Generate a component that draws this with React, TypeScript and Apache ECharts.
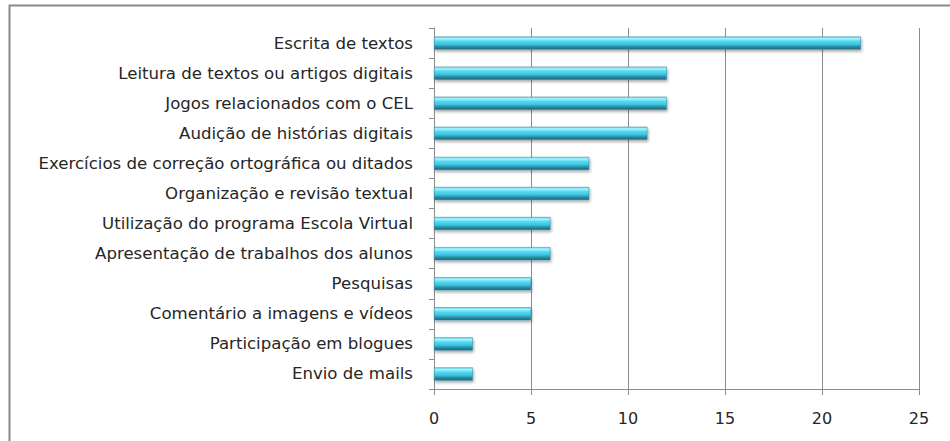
import React, { useEffect, useRef } from "react";
import * as echarts from "echarts";

const categories = [
  "Envio de mails",
  "Participação em blogues",
  "Comentário a imagens e vídeos",
  "Pesquisas",
  "Apresentação de trabalhos dos alunos",
  "Utilização do programa Escola Virtual",
  "Organização e revisão textual",
  "Exercícios de correção ortográfica ou ditados",
  "Audição de histórias digitais",
  "Jogos relacionados com o CEL",
  "Leitura de textos ou artigos digitais",
  "Escrita de textos",
];
const values = [2, 2, 5, 5, 6, 6, 8, 8, 11, 12, 12, 22];
const xMin = 0;
const xMax = 25;
const xInterval = 5;

const FONT = "DejaVu Sans";

export default function App() {
  const ref = useRef<HTMLDivElement>(null);
  useEffect(() => {
    document.body.style.margin = "0";
    const chart = echarts.init(ref.current!, null, { renderer: "svg" });
    const barGradient = new echarts.graphic.LinearGradient(0, 0, 0, 1, [
      { offset: 0, color: "#5fd6ec" },
      { offset: 0.15, color: "#a6f4ff" },
      { offset: 0.35, color: "#58d8f0" },
      { offset: 0.6, color: "#3cc4e0" },
      { offset: 0.78, color: "#2b91aa" },
      { offset: 1, color: "#1c6478" },
    ]);
    chart.setOption({
      animation: false,
      backgroundColor: "#ffffff",
      graphic: [
        {
          type: "rect",
          shape: { x: 9.5, y: 5.5, width: 960, height: 460 },
          style: { fill: "none", stroke: "#8a8a8a", lineWidth: 2 },
          silent: true,
        },
      ],
      grid: { left: 434, top: 28, width: 485, height: 361, containLabel: false },
      xAxis: {
        type: "value",
        min: xMin,
        max: xMax,
        interval: xInterval,
        axisLine: { show: true, lineStyle: { color: "#8c8c8c", width: 1 } },
        axisTick: { show: true, length: 6, lineStyle: { color: "#8c8c8c" } },
        splitLine: { show: true, lineStyle: { color: "#8c8c8c", width: 1 } },
        axisLabel: { color: "#262626", fontSize: 16, fontFamily: FONT, margin: 21 },
      },
      yAxis: {
        type: "category",
        data: categories,
        axisLine: { show: true, lineStyle: { color: "#8c8c8c", width: 1 } },
        axisTick: { show: true, length: 5, lineStyle: { color: "#8c8c8c" } },
        axisLabel: { color: "#262626", fontSize: 16.6, fontFamily: FONT, margin: 21 },
      },
      series: [
        {
          type: "bar",
          data: values,
          barWidth: 13,
          itemStyle: {
            color: barGradient,
            borderColor: "#2a8aa0",
            borderWidth: 0.5,
            shadowColor: "rgba(0,0,0,0.35)",
            shadowBlur: 3,
            shadowOffsetX: 1,
            shadowOffsetY: 2,
          },
        },
      ],
    });
    return () => chart.dispose();
  }, []);
  return (
    <div
      ref={ref}
      style={{ position: "fixed", left: 0, top: 0, width: 950, height: 441 }}
    />
  );
}
